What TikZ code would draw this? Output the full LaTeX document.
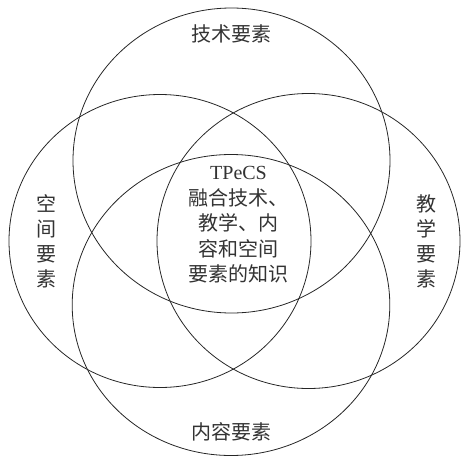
\documentclass[tikz,border=0pt]{standalone}
\usepackage{fontspec}
\setmainfont{Liberation Serif}
\newfontfamily\cjk{Noto Sans CJK SC}
\begin{document}
\begin{tikzpicture}[x=1pt,y=-1pt,
  ring/.style={draw=black!85,line width=0.8pt},
  lbl/.style={text=black!80,font=\cjk\fontsize{20}{25}\selectfont,align=center,inner sep=0pt}]
\useasboundingbox (0,0) rectangle (461,461);
\draw[ring] (231.5,160.5) ellipse [x radius=158.5, y radius=152.5];
\draw[ring] (231,305) ellipse [x radius=158.8, y radius=150.5];
\draw[ring] (160,241) ellipse [x radius=151, y radius=146.5];
\draw[ring] (308.5,241) ellipse [x radius=151.5, y radius=147.5];
\node[lbl] (tech) at (231,34) {技术要素};
\node[lbl] (cont) at (231,432) {内容要素};
\node[lbl] (space) at (46.5,241) {空\\间\\要\\素};
\node[lbl] (peda) at (426,241) {教\\学\\要\\素};
\node[lbl,font=\fontsize{20}{25.5}\selectfont] (core) at (238.5,225) {TPeCS\\{\cjk 融合技术、}\\{\cjk 教学、内}\\{\cjk 容和空间}\\{\cjk 要素的知识}};
\end{tikzpicture}
\end{document}
